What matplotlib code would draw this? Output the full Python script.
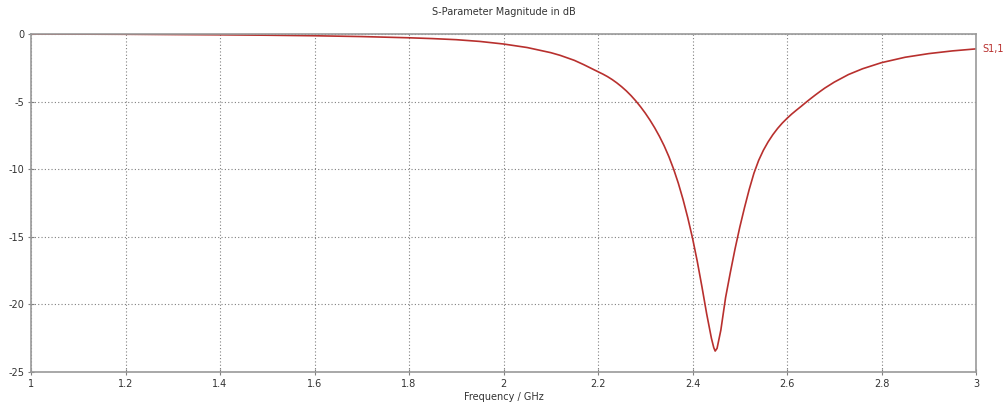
import matplotlib
matplotlib.use("Agg")
import matplotlib.pyplot as plt

freq_ghz = [1.00, 1.10, 1.20, 1.30, 1.40, 1.50, 1.60, 1.70, 1.80, 1.85, 1.90, 1.95,
            2.00, 2.05, 2.10, 2.12, 2.15, 2.17, 2.20, 2.21, 2.22, 2.23, 2.24, 2.25,
            2.26, 2.27, 2.28, 2.29, 2.30, 2.31, 2.32, 2.33, 2.34, 2.35, 2.36, 2.37,
            2.38, 2.39, 2.40, 2.41, 2.42, 2.43, 2.44, 2.445, 2.448, 2.452, 2.46,
            2.47, 2.48, 2.49, 2.50, 2.51, 2.52, 2.53, 2.54, 2.55, 2.56, 2.57, 2.58,
            2.59, 2.60, 2.61, 2.62, 2.63, 2.64, 2.65, 2.66, 2.67, 2.68, 2.70, 2.73,
            2.76, 2.80, 2.85, 2.90, 2.95, 3.00]
s11_db = [0.00, -0.01, -0.02, -0.04, -0.06, -0.09, -0.13, -0.19, -0.28, -0.34, -0.42, -0.55,
          -0.74, -1.00, -1.38, -1.58, -1.95, -2.27, -2.79, -2.96, -3.15, -3.37, -3.62, -3.90,
          -4.21, -4.56, -4.95, -5.38, -5.85, -6.37, -6.94, -7.57, -8.27, -9.07, -9.99, -11.04,
          -12.24, -13.59, -15.09, -16.8, -18.7, -20.7, -22.5, -23.2, -23.45, -23.25, -21.9,
          -19.5, -17.65, -15.9, -14.3, -12.85, -11.5, -10.3, -9.35, -8.6, -7.98, -7.45, -6.99,
          -6.59, -6.24, -5.92, -5.63, -5.35, -5.06, -4.78, -4.51, -4.25, -4.00, -3.56, -3.00,
          -2.57, -2.12, -1.72, -1.45, -1.25, -1.10]

x_ticks = [1, 1.2, 1.4, 1.6, 1.8, 2, 2.2, 2.4, 2.6, 2.8, 3]
x_tick_labels = ["1", "1.2", "1.4", "1.6", "1.8", "2", "2.2", "2.4", "2.6", "2.8", "3"]
y_ticks = [0, -5, -10, -15, -20, -25]
y_tick_labels = ["0", "-5", "-10", "-15", "-20", "-25"]

line_color = "#b8302e"

fig = plt.figure(figsize=(10.07, 4.08), dpi=100)
ax = fig.add_axes([31/1007, 1-372/408, (976-31)/1007, (372-34)/408])
ax.plot(freq_ghz, s11_db, color=line_color, lw=1.2, solid_joinstyle="round")
ax.set_xlim(1, 3)
ax.set_ylim(-25, 0)
ax.set_xticks(x_ticks)
ax.set_xticklabels(x_tick_labels)
ax.set_yticks(y_ticks)
ax.set_yticklabels(y_tick_labels)
ax.grid(True, color="#808080", linestyle=(0, (1, 2)), linewidth=0.8)
for s in ax.spines.values():
    s.set_color("#9a9a9a")
    s.set_linewidth(1.2)
ax.tick_params(axis="both", direction="inout", length=4, width=0.8, color="#808080",
               labelsize=7, labelcolor="#333333", pad=3)
ax.set_xlabel("Frequency / GHz", fontsize=7, color="#333333", labelpad=2)
fig.text(0.5, 1-12/408, "S-Parameter Magnitude in dB", ha="center", va="center",
         fontsize=7, color="#333333")
ax.text(1.007, s11_db[-1] + 0.02, "S1,1", transform=ax.get_yaxis_transform(),
        color=line_color, fontsize=7, va="center", ha="left")
fig.savefig("out.png", dpi=100, facecolor="white")
